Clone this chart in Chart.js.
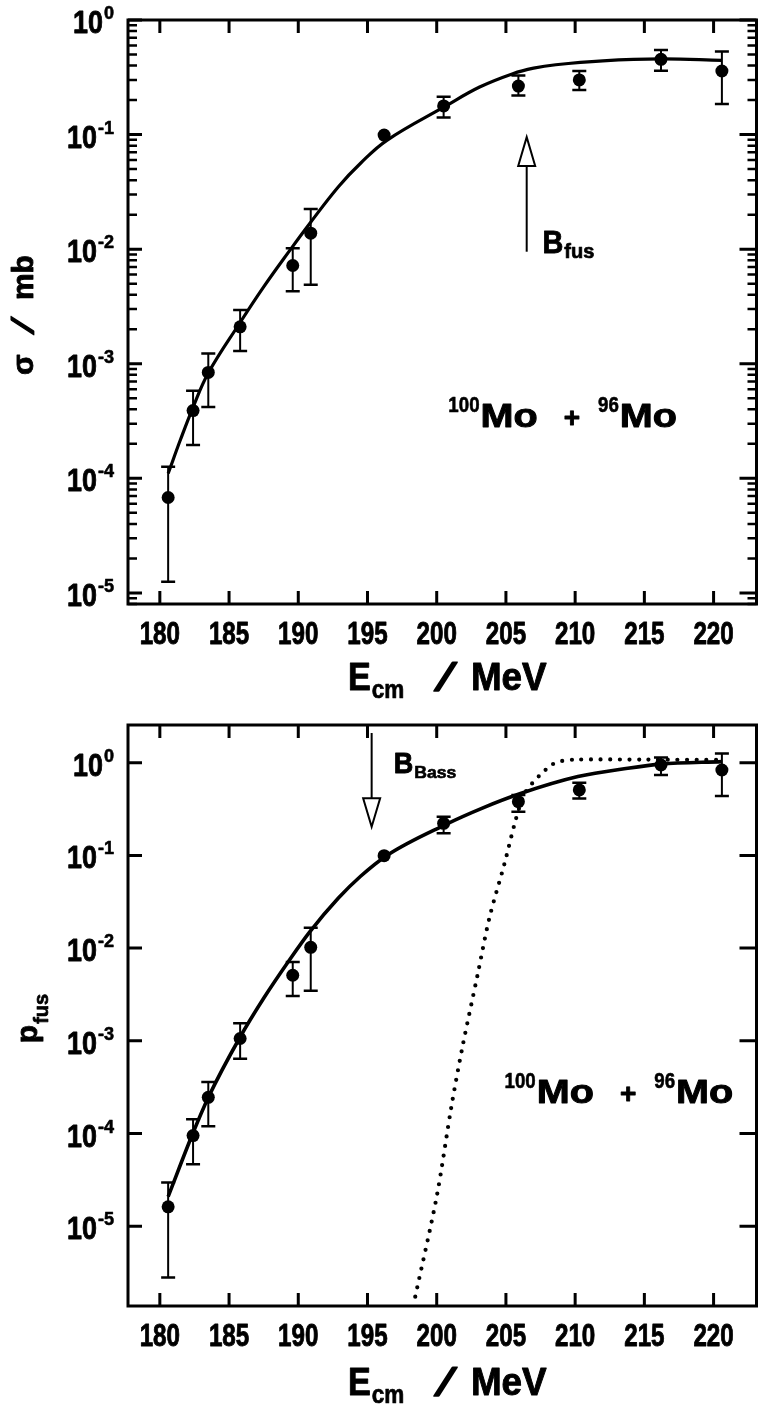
<!DOCTYPE html>
<html>
<head>
<meta charset="UTF-8">
<title>100Mo + 96Mo sub-barrier fusion</title>
<script src="https://cdn.jsdelivr.net/npm/chart.js@4/dist/chart.umd.min.js"></script>
<style>
  html, body { margin: 0; padding: 0; background: #fff; }
  canvas { position: absolute; left: 0; }
  #sigma { top: 0; }
  #pfus { top: 700px; }
</style>
</head>
<body>
<canvas id="sigma" width="763" height="700"></canvas>
<canvas id="pfus" width="763" height="706"></canvas>

<script>
// c.m. energies of the measured points (MeV)
const energies = [180.6, 182.4, 183.5, 185.8, 189.6, 190.9, 196.2, 200.5, 205.9, 210.3, 216.2, 220.6];

// evaporation-residue cross section (mb) with error limits
const sigma   = [6.8e-5, 3.9e-4, 8.4e-4, 2.1e-3, 7.2e-3, 1.38e-2, 0.099, 0.178, 0.265, 0.300, 0.454, 0.359];
const sigmaLo = [1.25e-5, 1.95e-4, 4.2e-4, 1.29e-3, 4.3e-3, 4.9e-3, 0.099, 0.141, 0.219, 0.245, 0.361, 0.185];
const sigmaHi = [1.26e-4, 5.8e-4, 1.23e-3, 2.95e-3, 1.02e-2, 2.24e-2, 0.099, 0.214, 0.327, 0.359, 0.547, 0.530];

// fusion probability with error limits
const pfus   = [1.62e-5, 9.5e-5, 2.46e-4, 1.06e-3, 5.1e-3, 1.02e-2, 0.0993, 0.222, 0.380, 0.508, 0.944, 0.834];
const pfusLo = [2.8e-6, 4.65e-5, 1.2e-4, 6.4e-4, 3.04e-3, 3.47e-3, 0.0993, 0.173, 0.296, 0.412, 0.736, 0.437];
const pfusHi = [2.97e-5, 1.43e-4, 3.6e-4, 1.55e-3, 7.1e-3, 1.66e-2, 0.0993, 0.261, 0.448, 0.608, 1.14, 1.26];

// model curves
const sigmaFitE = [180.6, 181.5, 182.4, 183.5, 185.8, 187.5, 189.4, 190.8, 192.9, 194.5, 196.4, 200.6, 203.1, 205.5, 207.0, 208.6, 212.0, 216.2, 220.6];
const sigmaFit  = [1.10e-4, 2.19e-4, 4.17e-4, 8.3e-4, 2.29e-3, 4.68e-3, 9.8e-3, 0.0166, 0.0351, 0.0562, 0.0891, 0.176, 0.260, 0.340, 0.380, 0.407, 0.440, 0.457, 0.445];

const pfusFitE = [180.6, 182.4, 183.5, 185.8, 187.5, 189.4, 190.8, 192.9, 194.5, 196.4, 200.6, 203.3, 206.0, 210.2, 213.8, 216.2, 220.6];
const pfusFit  = [2.09e-5, 1.02e-4, 2.45e-4, 1.10e-3, 2.88e-3, 7.59e-3, 0.0148, 0.0347, 0.0596, 0.100, 0.214, 0.324, 0.462, 0.708, 0.871, 0.966, 1.028];

const sharpE = [198.45, 200.0, 201.06, 201.86, 202.97, 203.8, 204.9, 205.7, 206.3, 206.9, 207.4, 207.8, 208.3, 209.0, 210.0, 215.0, 220.7];
const sharp  = [1.74e-6, 2.09e-5, 1.95e-4, 8.6e-4, 5.3e-3, 0.021, 0.082, 0.24, 0.45, 0.60, 0.72, 0.82, 0.95, 1.04, 1.08, 1.08, 1.07];

// axes
const xTicks = [180, 185, 190, 195, 200, 205, 210, 215, 220];
const sigmaDecades = [1e-5, 1e-4, 1e-3, 1e-2, 1e-1, 1];
const pfusDecades  = [1e-5, 1e-4, 1e-3, 1e-2, 1e-1, 1];
const eMin = 177.7, eMax = 223.1;

const FONT = '"Liberation Sans", Arial, sans-serif';

const pts = (xs, ys) => xs.map((x, i) => ({ x: x, y: ys[i] }));

// text made of runs (sub/superscripts, squeezed or slanted glyphs)
function drawRuns(ctx, parts, x, y, align) {
  let w = 0;
  parts.forEach(p => {
    ctx.font = `bold ${p.size}px ${FONT}`;
    p.w = ctx.measureText(p.t).width * (p.sx || 1);
    w += p.w + (p.gap || 0);
  });
  let cx = align === 'right' ? x - w : align === 'center' ? x - w / 2 : x;
  parts.forEach(p => {
    cx += p.gap || 0;
    ctx.save();
    ctx.font = `bold ${p.size}px ${FONT}`;
    ctx.textAlign = 'left';
    ctx.textBaseline = 'alphabetic';
    ctx.translate(cx, y + (p.dy || 0));
    if (p.skew) ctx.transform(1, 0, p.skew, 1, 0, 0);
    ctx.scale(p.sx || 1, 1);
    ctx.fillText(p.t, 0, 0);
    // heavier strokes, like the plotter lettering
    ctx.lineWidth = p.heavy || 0.9;
    ctx.lineJoin = 'round';
    ctx.strokeText(p.t, 0, 0);
    ctx.restore();
    cx += p.w;
  });
}

function drawArrow(ctx, x, yTail, yBase, yTip, half) {
  ctx.lineWidth = 2;
  ctx.beginPath();
  ctx.moveTo(x, yTail);
  ctx.lineTo(x, yBase);
  ctx.stroke();
  ctx.beginPath();
  ctx.moveTo(x - half, yBase);
  ctx.lineTo(x + half, yBase);
  ctx.lineTo(x, yTip);
  ctx.closePath();
  ctx.fillStyle = '#fff';
  ctx.fill();
  ctx.stroke();
  ctx.fillStyle = '#000';
}

function errorBars(p) {
  return {
    id: 'errorBars',
    afterDatasetsDraw(chart) {
      const { ctx, scales: { x, y } } = chart;
      ctx.save();
      ctx.strokeStyle = '#000';
      energies.forEach((e, i) => {
        if (p.lo[i] === p.hi[i]) return;
        const px = x.getPixelForValue(e);
        const y0 = y.getPixelForValue(p.lo[i]);
        const y1 = y.getPixelForValue(p.hi[i]);
        ctx.lineWidth = 2;
        ctx.beginPath();
        ctx.moveTo(px, y0); ctx.lineTo(px, y1);
        ctx.stroke();
        ctx.lineWidth = 2.5;
        ctx.beginPath();
        ctx.moveTo(px - 7, y0); ctx.lineTo(px + 7, y0);
        ctx.moveTo(px - 7, y1); ctx.lineTo(px + 7, y1);
        ctx.stroke();
      });
      ctx.restore();
    }
  };
}

// frame with inward ticks, labels, titles and the barrier arrow
function frame(p) {
  return {
    id: 'frame',
    afterDraw(chart) {
      const { ctx, chartArea: a, scales: { x, y } } = chart;
      ctx.save();
      ctx.strokeStyle = '#000';
      ctx.fillStyle = '#000';
      ctx.lineCap = 'butt';

      ctx.lineWidth = 3;
      ctx.strokeRect(a.left, a.top, a.right - a.left, a.bottom - a.top);

      // energy ticks, top and bottom
      xTicks.forEach(v => {
        const px = x.getPixelForValue(v);
        ctx.lineWidth = 3;
        ctx.beginPath();
        ctx.moveTo(px, a.bottom); ctx.lineTo(px, a.bottom - 13);
        ctx.moveTo(px, a.top); ctx.lineTo(px, a.top + 13);
        ctx.stroke();
        drawRuns(ctx, [{ t: String(v), size: 31, sx: 0.78 }], px, a.bottom + 40, 'center');
      });

      // decades
      p.decades.forEach(v => {
        const py = y.getPixelForValue(v);
        ctx.lineWidth = 3;
        ctx.beginPath();
        ctx.moveTo(a.left, py); ctx.lineTo(a.left + 14, py);
        ctx.moveTo(a.right, py); ctx.lineTo(a.right - 17, py);
        ctx.stroke();
        const ex = String(Math.round(Math.log10(v)));
        drawRuns(ctx, [
          { t: '10', size: 32, sx: 0.84 },
          { t: ex, size: 19, dy: -14, gap: 1, sx: 0.95, heavy: 0.6 }
        ], a.left - 14, py + 13, 'right');
      });

      if (p.minor) {
        ctx.lineWidth = 2.5;
        p.decades.concat([p.decades[0] / 10]).forEach(d => {
          for (let m = 2; m <= 9; m++) {
            const v = d * m;
            if (v <= y.min || v >= y.max) continue;
            const py = y.getPixelForValue(v);
            ctx.beginPath();
            ctx.moveTo(a.left, py); ctx.lineTo(a.left + 9, py);
            ctx.moveTo(a.right, py); ctx.lineTo(a.right - 9, py);
            ctx.stroke();
          }
        });
      }

      // axis titles
      drawRuns(ctx, [
        { t: 'E', size: 38, sx: 0.9 },
        { t: 'cm', size: 25, sx: 0.9, dy: 8, gap: 1, heavy: 0.7 },
        { t: '/', size: 38, skew: -0.45, gap: 30, heavy: 2 },
        { t: 'MeV', size: 38, sx: 0.97, gap: 26 }
      ], 348, a.bottom + p.titleGap, 'left');

      ctx.save();
      ctx.translate(p.yTitleX, (a.top + a.bottom) / 2 + 3);
      ctx.rotate(-Math.PI / 2);
      drawRuns(ctx, p.yTitle, 0, 0, 'center');
      ctx.restore();

      // reaction label
      drawRuns(ctx, [
        { t: '100', size: 22, sx: 0.85, dy: -15, heavy: 0.6 },
        { t: 'Mo', size: 33, sx: 1.2, gap: 1 },
        { t: '+', size: 28, gap: 26 },
        { t: '96', size: 22, sx: 0.85, dy: -15, gap: 18, heavy: 0.6 },
        { t: 'Mo', size: 33, sx: 1.2, gap: 1 }
      ], x.getPixelForValue(p.tag.e), y.getPixelForValue(p.tag.v), 'left');

      // barrier arrow
      const ar = p.arrow;
      const ax = x.getPixelForValue(ar.e);
      drawArrow(ctx, ax, y.getPixelForValue(ar.tail), y.getPixelForValue(ar.base), y.getPixelForValue(ar.tip), 8.5);
      drawRuns(ctx, ar.label, x.getPixelForValue(ar.labelE), y.getPixelForValue(ar.labelV), 'left');

      ctx.restore();
    }
  };
}

function makePanel(id, p) {
  return new Chart(document.getElementById(id), {
    type: 'scatter',
    data: { datasets: p.sets },
    options: {
      responsive: false,
      animation: false,
      devicePixelRatio: 1,
      layout: { padding: p.pad },
      plugins: { legend: { display: false }, tooltip: { enabled: false } },
      scales: {
        x: { type: 'linear', min: eMin, max: eMax, display: false },
        y: { type: 'logarithmic', min: p.yMin, max: p.yMax, display: false }
      }
    },
    plugins: [errorBars(p), frame(p)]
  });
}

const curve = (data, extra) => Object.assign({
  data: data, showLine: true, borderColor: '#000', borderWidth: 3.2,
  pointRadius: 0, cubicInterpolationMode: 'monotone', fill: false
}, extra || {});

const points = data => ({
  data: data, showLine: false, pointRadius: 6.5, pointStyle: 'circle',
  backgroundColor: '#000', borderColor: '#000', borderWidth: 0
});

makePanel('sigma', {
  pad: { left: 128, right: 0, top: 20, bottom: 96 },
  yMin: 8.0e-6, yMax: 1,
  decades: sigmaDecades, minor: true,
  lo: sigmaLo, hi: sigmaHi,
  titleGap: 86,
  yTitleX: 33,
  yTitle: [
    { t: 'σ', size: 30 },
    { t: '/', size: 30, skew: -0.45, gap: 20, heavy: 1.6 },
    { t: 'mb', size: 30, gap: 26 }
  ],
  tag: { e: 200.84, v: 2.81e-4 },
  arrow: {
    e: 206.5, tail: 0.0095, base: 0.0532, tip: 0.095,
    labelE: 207.64, labelV: 9.27e-3,
    label: [{ t: 'B', size: 32, sx: 0.9 }, { t: 'fus', size: 20, dy: 5, gap: 1, heavy: 0.7 }]
  },
  sets: [
    curve(pts(sigmaFitE, sigmaFit), { cubicInterpolationMode: 'default', tension: 0.4 }),
    points(pts(energies, sigma))
  ]
});

makePanel('pfus', {
  pad: { left: 128, right: 0, top: 25, bottom: 100 },
  yMin: 1.38e-6, yMax: 2.55,
  decades: pfusDecades, minor: false,
  lo: pfusLo, hi: pfusHi,
  titleGap: 89,
  yTitleX: 37,
  yTitle: [
    { t: 'p', size: 30 },
    { t: 'fus', size: 20, dy: 11, gap: 1, heavy: 0.7 }
  ],
  tag: { e: 204.9, v: 2.12e-4 },
  arrow: {
    e: 195.3, tail: 2.09, base: 0.413, tip: 0.204,
    labelE: 196.9, labelV: 0.774,
    label: [{ t: 'B', size: 30, sx: 0.9 }, { t: 'Bass', size: 16, sx: 1.1, dy: 5, gap: 1, heavy: 0.6 }]
  },
  sets: [
    curve(pts(sharpE, sharp), { borderWidth: 4.2, borderDash: [0, 9.6], borderCapStyle: 'round', cubicInterpolationMode: 'default', tension: 0.3 }),
    curve(pts(pfusFitE, pfusFit), { borderWidth: 3.6 }),
    points(pts(energies, pfus))
  ]
});
</script>
</body>
</html>
